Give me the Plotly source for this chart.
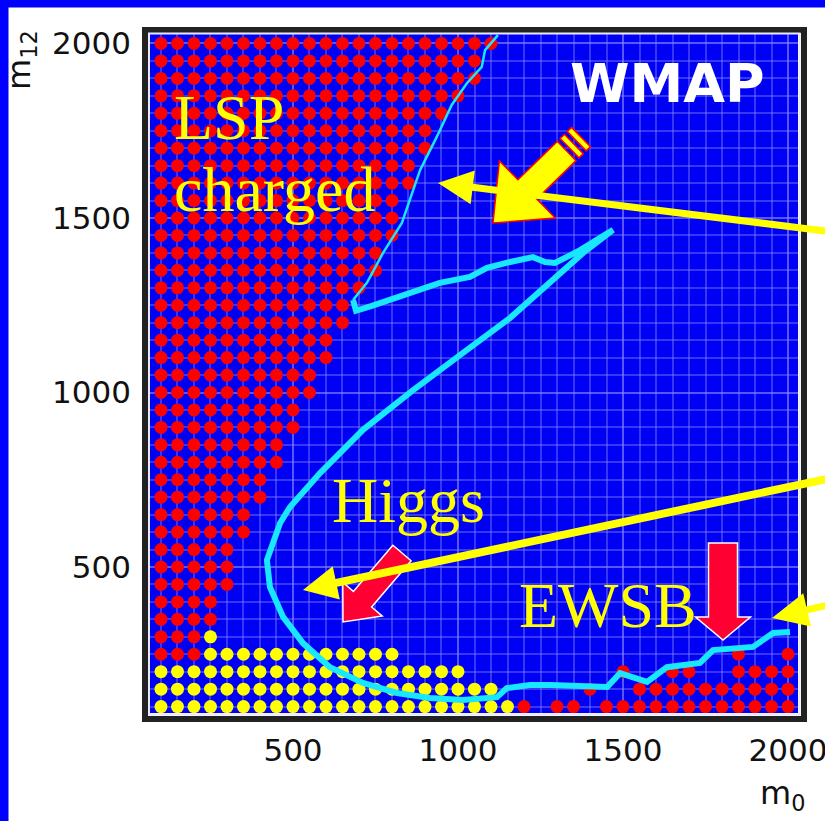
import math
import plotly.graph_objects as go

# ---------------- data ----------------
x_tick_vals = [500, 1000, 1500, 2000]
y_tick_vals = [500, 1000, 1500, 2000]

# LSP charged region: for each m1/2 row, the largest m0 with a red point (starting at m0=100)
lsp_m12 = [2000, 1950, 1900, 1850, 1800, 1750, 1700, 1650, 1600, 1550, 1500, 1450, 1400,
           1350, 1300, 1250, 1200, 1150, 1100, 1050, 1000, 950, 900, 850, 800, 750, 700,
           650, 600, 550, 500, 450, 400, 350, 300, 250]
lsp_max_m0 = [1100, 1050, 1050, 1000, 950, 900, 900, 850, 850, 800, 800, 800, 750,
              750, 700, 650, 650, 600, 600, 550, 550, 500, 500, 450, 450, 400, 400,
              350, 350, 300, 300, 300, 250, 250, 200, 200]

# Higgs-excluded region (yellow): per row, first and last m0
higgs_m12 = [300, 250, 200, 150, 100]
higgs_min_m0 = [250, 250, 100, 100, 100]
higgs_max_m0 = [250, 800, 1000, 1100, 1150]

# EWSB region (red points, bottom right)
ewsb_m12_100 = [1200, 1300, 1350, 1450, 1500, 1550, 1600, 1650, 1700, 1750, 1800, 1850, 1900, 1950, 2000]
ewsb_m12_150 = [1400, 1550, 1600, 1650, 1700, 1750, 1800, 1850, 1900, 1950, 2000]
ewsb_m12_200 = [1500, 1650, 1700, 1850, 1900, 1950, 2000]
ewsb_m12_250 = [1850, 2000]

# WMAP strip (cyan curve)
wmap_m0 = [682, 691, 739, 824, 885, 945, 1036, 1088, 1158, 1227, 1264, 1294, 1370, 1470,
           1379, 1279, 1158, 1006, 864, 712, 582, 491, 461, 421, 430, 470, 530, 612, 712,
           815, 915, 1015, 1118, 1148, 1218, 1279, 1400, 1452, 1491, 1573, 1633, 1733,
           1773, 1833, 1894, 1955, 2006]
wmap_m12 = [1265, 1234, 1248, 1277, 1297, 1314, 1331, 1357, 1374, 1388, 1374, 1371, 1408, 1466,
            1400, 1314, 1214, 1107, 1007, 893, 769, 672, 626, 520, 443, 357, 282, 213, 168,
            139, 125, 119, 127, 153, 162, 162, 156, 156, 196, 171, 213, 225,
            262, 268, 271, 311, 314]

# thin WMAP strip along the LSP boundary
edge_m0 = [1121, 1082, 1072, 1027, 981, 936, 885, 830, 773, 724, 682]
edge_m12 = [2024, 1981, 1933, 1886, 1824, 1733, 1637, 1486, 1400, 1314, 1265]

# ---------------- build point sets ----------------
def row_points(m12_list, lo_list, hi_list):
    xs, ys = [], []
    for y, lo, hi in zip(m12_list, lo_list, hi_list):
        for x in range(lo, hi + 1, 50):
            xs.append(x)
            ys.append(y)
    return xs, ys

lsp_x, lsp_y = row_points(lsp_m12, [100] * len(lsp_m12), lsp_max_m0)
hig_x, hig_y = row_points(higgs_m12, higgs_min_m0, higgs_max_m0)
ew_x, ew_y = [], []
for yv, row in [(100, ewsb_m12_100), (150, ewsb_m12_150), (200, ewsb_m12_200), (250, ewsb_m12_250)]:
    ew_x += row
    ew_y += [yv] * len(row)

# ---------------- figure ----------------
W, H = 825, 821
PL, PT, PW, PH = 150, 34, 648, 679
RED_DOT = "#ff0000"
YEL = "#ffff00"
CYAN = "#19e6ff"
DOT = 13

fig = go.Figure()
fig.add_trace(go.Scatter(x=lsp_x, y=lsp_y, mode="markers",
                         marker=dict(size=DOT, color=RED_DOT), hoverinfo="skip"))
fig.add_trace(go.Scatter(x=ew_x, y=ew_y, mode="markers",
                         marker=dict(size=DOT, color=RED_DOT), hoverinfo="skip"))
fig.add_trace(go.Scatter(x=hig_x, y=hig_y, mode="markers",
                         marker=dict(size=DOT, color=YEL), hoverinfo="skip"))
fig.add_trace(go.Scatter(x=edge_m0, y=edge_m12, mode="lines",
                         line=dict(color=CYAN, width=2.5), hoverinfo="skip"))
fig.add_trace(go.Scatter(x=wmap_m0, y=wmap_m12, mode="lines",
                         line=dict(color=CYAN, width=6), hoverinfo="skip"))


def P(px, py):
    return (px - PL) / PW, (PT + PH - py) / PH


def path_of(pts):
    s = ""
    for i, (px, py) in enumerate(pts):
        x, y = P(px, py)
        s += ("M" if i == 0 else "L") + f"{x:.5f},{y:.5f} "
    return s + "Z"


def block_arrow(tip, tail, head_len, head_half, shaft_half):
    tx, ty = tip
    ux, uy = tail
    dx, dy = tx - ux, ty - uy
    L = math.hypot(dx, dy)
    dx, dy = dx / L, dy / L
    nx, ny = -dy, dx
    bx, by = tx - head_len * dx, ty - head_len * dy
    pts = [(ux + shaft_half * nx, uy + shaft_half * ny),
           (bx + shaft_half * nx, by + shaft_half * ny),
           (bx + head_half * nx, by + head_half * ny),
           (tx, ty),
           (bx - head_half * nx, by - head_half * ny),
           (bx - shaft_half * nx, by - shaft_half * ny),
           (ux - shaft_half * nx, uy - shaft_half * ny)]
    return path_of(pts)


def band(tip, direction, s0, s1, half):
    dx, dy = direction
    nx, ny = -dy, dx
    a = (tip[0] + s0 * dx, tip[1] + s0 * dy)
    b = (tip[0] + s1 * dx, tip[1] + s1 * dy)
    return path_of([(a[0] + half * nx, a[1] + half * ny), (b[0] + half * nx, b[1] + half * ny),
                    (b[0] - half * nx, b[1] - half * ny), (a[0] - half * nx, a[1] - half * ny)])


shapes = []
# slide blue border (left and top)
x0, y0 = P(-2, -2); x1, y1 = P(8.5, 823)
shapes.append(dict(type="rect", xref="paper", yref="paper", x0=x0, y0=y0, x1=x1, y1=y1,
                   fillcolor="#0000ff", line=dict(width=0), layer="above"))
x0, y0 = P(-2, -2); x1, y1 = P(827, 7.5)
shapes.append(dict(type="rect", xref="paper", yref="paper", x0=x0, y0=y0, x1=x1, y1=y1,
                   fillcolor="#0000ff", line=dict(width=0), layer="above"))
# frame
x0, y0 = P(145, 30); x1, y1 = P(804, 719)
shapes.append(dict(type="rect", xref="paper", yref="paper", x0=x0, y0=y0, x1=x1, y1=y1,
                   line=dict(color="#222222", width=6), layer="above"))
x0, y0 = P(149, 33.5); x1, y1 = P(799.5, 714.5)
shapes.append(dict(type="rect", xref="paper", yref="paper", x0=x0, y0=y0, x1=x1, y1=y1,
                   line=dict(color="#e8e8ff", width=2), layer="above"))

RED_ARROW = "#ff0033"
# red block arrows
shapes.append(dict(type="path", xref="paper", yref="paper",
                   path=block_arrow((343, 622), (402, 553), 30, 26, 12),
                   fillcolor=RED_ARROW, line=dict(color="white", width=1.5), layer="above"))
shapes.append(dict(type="path", xref="paper", yref="paper",
                   path=block_arrow((723, 640), (723, 543), 23, 27.5, 14.5),
                   fillcolor=RED_ARROW, line=dict(color="white", width=1.5), layer="above"))
# WMAP yellow block arrow with stripes
wtip = (493, 223)
u = (87 / 121.6, -85 / 121.6)
shapes.append(dict(type="path", xref="paper", yref="paper",
                   path=block_arrow(wtip, (wtip[0] + 103 * u[0], wtip[1] + 103 * u[1]), 48, 40, 13.5),
                   fillcolor=YEL, line=dict(color="#ff0000", width=1.5), layer="above"))
for s0, s1 in [(107, 113), (117, 123)]:
    shapes.append(dict(type="path", xref="paper", yref="paper",
                       path=band(wtip, u, s0, s1, 13.5),
                       fillcolor=YEL, line=dict(color="#ff0000", width=1.5), layer="above"))
# yellow pointer arrows coming from the right
for tip, tail, hl, hh, sh in [((438, 183), (850, 234), 35, 17, 3.5),
                              ((303, 590), (850, 474), 34, 17, 4),
                              ((772, 618), (850, 600), 36, 17, 3.5)]:
    shapes.append(dict(type="path", xref="paper", yref="paper",
                       path=block_arrow(tip, tail, hl, hh, sh),
                       fillcolor=YEL, line=dict(width=0), layer="above"))

SERIF = "Liberation Serif"
ann = []


def text(px, py, s, size, color, family, anchor="left", angle=0):
    x, y = P(px, py)
    ann.append(dict(x=x, y=y, xref="paper", yref="paper", text=s, showarrow=False,
                    xanchor=anchor, yanchor="middle", textangle=angle,
                    font=dict(family=family, size=size, color=color)))


text(172, 117, "LSP", 64, YEL, SERIF)
text(172, 190, "charged", 64, YEL, SERIF)
text(330, 500, "Higgs", 64, YEL, SERIF)
text(517, 605, "EWSB", 64, YEL, SERIF)
text(568, 84, "<b>WMAP</b>", 54, "white", "DejaVu Sans")
text(782, 795, "m<sub>0</sub>", 32, "#111111", "DejaVu Sans", anchor="center")
text(21, 60, "m<sub>12</sub>", 32, "#111111", "DejaVu Sans", anchor="center", angle=-90)

GRID = "rgba(130,130,255,0.42)"
minor = dict(tickmode="linear", tick0=0, dtick=50, showgrid=True, gridcolor=GRID,
             gridwidth=1.5, ticks="")

fig.update_layout(
    width=W, height=H,
    margin=dict(l=PL, r=W - PL - PW, t=PT, b=H - PT - PH),
    paper_bgcolor="white", plot_bgcolor="#0000f5",
    showlegend=False,
    shapes=shapes, annotations=ann,
    xaxis=dict(range=[66.7, 2030.3], tickmode="array", tickvals=x_tick_vals,
               ticktext=[str(v) for v in x_tick_vals],
               showgrid=True, gridcolor=GRID, gridwidth=1.5, zeroline=False, showline=False,
               ticks="", ticklabelstandoff=16, automargin=False, ticklabeloverflow="allow",
               minor=minor,
               tickfont=dict(family="DejaVu Sans", size=31, color="#111111")),
    yaxis=dict(range=[81.7, 2027.2], tickmode="array", tickvals=y_tick_vals,
               ticktext=[str(v) for v in y_tick_vals],
               showgrid=True, gridcolor=GRID, gridwidth=1.5, zeroline=False, showline=False,
               ticks="", ticklabelstandoff=18, automargin=False, ticklabeloverflow="allow",
               minor=minor,
               tickfont=dict(family="DejaVu Sans", size=31, color="#111111")),
)

fig.write_html("out.html", config={"displayModeBar": False},
               post_script="document.body.style.margin='0px';document.body.style.overflow='hidden';")
